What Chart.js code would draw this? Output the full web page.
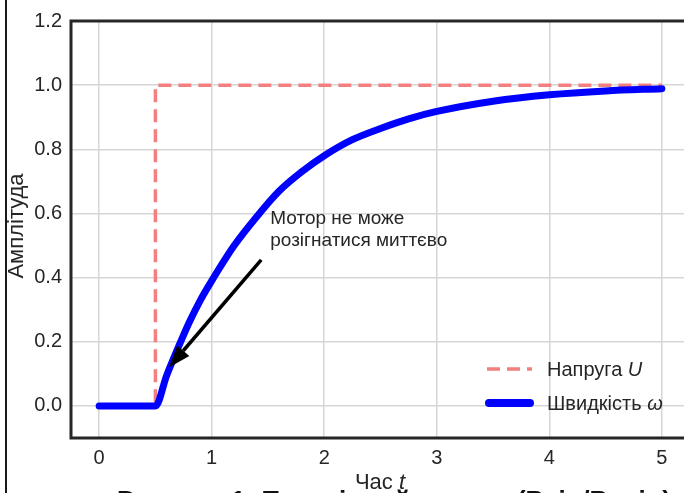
<!DOCTYPE html>
<html>
<head>
<meta charset="utf-8">
<script src="https://cdn.jsdelivr.net/npm/chart.js@4.4.1/dist/chart.umd.min.js"></script>
<style>
  html, body { margin: 0; padding: 0; background: #ffffff; overflow: hidden; }
  #wrap { position: relative; width: 700px; height: 493px; }
</style>
</head>
<body>
<div id="wrap"><canvas id="c"></canvas></div>
<script>
// ---- data ----
const timeSpeed = [0, 0.5, 0.6, 0.7, 0.8, 0.9, 1.0, 1.2, 1.4, 1.6, 1.8, 2.0, 2.25, 2.5, 2.75, 3.0, 3.5, 4.0, 4.5, 5.0];
const speedOmega = [0, 0, 0.095, 0.18, 0.26, 0.33, 0.39, 0.50, 0.59, 0.67, 0.73, 0.78, 0.83, 0.865, 0.895, 0.918, 0.95, 0.97, 0.982, 0.989];
const timeVoltage = [0, 0.5, 0.5, 5];
const voltageU = [0, 0, 1, 1];
const xTickValues = [0, 1, 2, 3, 4, 5];
const yTickValues = [0, 0.2, 0.4, 0.6, 0.8, 1.0, 1.2];
const xRange = [-0.25, 5.25];
const yRange = [-0.1, 1.2];
const annotationText = ["Мотор не може", "розігнатися миттєво"];
const annotationTextAt = [1.52, 0.5];
const annotationArrowFrom = [1.44, 0.455];
const annotationArrowTo = [0.62, 0.12];
const legendLabels = [["Напруга ", "U"], ["Швидкість ", "ω"]];
const xTitle = ["Час ", "t"];
const yTitle = "Амплітуда";
const captionText = "Рисунок 1: Перехідний процес (Вхід/Вихід)";

const FONT = "'Liberation Sans', Arial, sans-serif";
const TXT = "#262626";
const RED = "#f37f7f";
const BLUE = "#0000ff";

const voltagePoints = timeVoltage.map((t, i) => ({ x: t, y: voltageU[i] }));
const speedPoints = timeSpeed.map((t, i) => ({ x: t, y: speedOmega[i] }));

const extras = {
  id: 'extras',
  afterDatasetsDraw(chart) {
    const ctx = chart.ctx;
    const a = chart.chartArea;
    const xs = chart.scales.x, ys = chart.scales.y;
    ctx.save();
    // spines
    ctx.strokeStyle = "#262626";
    ctx.lineWidth = 3;
    ctx.beginPath();
    ctx.moveTo(a.right, a.top); ctx.lineTo(a.left, a.top);
    ctx.lineTo(a.left, a.bottom); ctx.lineTo(a.right, a.bottom);
    ctx.stroke();

    // figure border line at left
    ctx.strokeStyle = "#1a1a1a";
    ctx.lineWidth = 2;
    ctx.beginPath(); ctx.moveTo(6, 0); ctx.lineTo(6, 493); ctx.stroke();

    // annotation arrow
    const fx = xs.getPixelForValue(annotationArrowFrom[0]);
    const fy = ys.getPixelForValue(annotationArrowFrom[1]);
    const tx = xs.getPixelForValue(annotationArrowTo[0]);
    const ty = ys.getPixelForValue(annotationArrowTo[1]);
    const ang = Math.atan2(ty - fy, tx - fx);
    const headLen = 22, headW = 8;
    const bx = tx - headLen * Math.cos(ang), by = ty - headLen * Math.sin(ang);
    ctx.strokeStyle = "#000"; ctx.fillStyle = "#000";
    ctx.lineWidth = 3.5;
    ctx.beginPath(); ctx.moveTo(fx, fy); ctx.lineTo(bx, by); ctx.stroke();
    ctx.beginPath();
    ctx.moveTo(tx, ty);
    ctx.lineTo(bx + headW * Math.sin(ang), by - headW * Math.cos(ang));
    ctx.lineTo(bx - headW * Math.sin(ang), by + headW * Math.cos(ang));
    ctx.closePath(); ctx.fill();

    // annotation text
    ctx.fillStyle = TXT;
    ctx.font = "19px " + FONT;
    ctx.textAlign = "left"; ctx.textBaseline = "alphabetic";
    const ax = xs.getPixelForValue(annotationTextAt[0]);
    const ay = ys.getPixelForValue(annotationTextAt[1]);
    ctx.fillText(annotationText[0], ax, ay - 22);
    ctx.fillText(annotationText[1], ax, ay);

    // legend
    ctx.save();
    ctx.strokeStyle = RED; ctx.lineWidth = 3.5; ctx.setLineDash([13, 7]);
    ctx.beginPath(); ctx.moveTo(487, 369); ctx.lineTo(532, 369); ctx.stroke();
    ctx.restore();
    ctx.save();
    ctx.strokeStyle = BLUE; ctx.lineWidth = 8; ctx.lineCap = "round";
    ctx.beginPath(); ctx.moveTo(489, 403); ctx.lineTo(530, 403); ctx.stroke();
    ctx.restore();
    const legY = [376, 410];
    legendLabels.forEach((lab, i) => {
      ctx.font = "20px " + FONT;
      ctx.fillStyle = TXT;
      ctx.fillText(lab[0], 547, legY[i]);
      const w = ctx.measureText(lab[0]).width;
      ctx.font = "italic 20px " + FONT;
      ctx.fillText(lab[1], 547 + w, legY[i]);
    });

    // caption (cut off at bottom)
    ctx.font = "bold 26px " + FONT;
    ctx.textAlign = "left";
    ctx.fillStyle = "#111";
    ctx.fillText(captionText, 117, 508.5);

    // x title
    ctx.fillStyle = TXT;
    ctx.font = "22px " + FONT;
    const w1 = ctx.measureText(xTitle[0]).width;
    ctx.font = "italic 22px " + FONT;
    const w2 = ctx.measureText(xTitle[1]).width;
    let sx = 380 - (w1 + w2) / 2;
    ctx.font = "22px " + FONT;
    ctx.fillText(xTitle[0], sx, 489);
    ctx.font = "italic 22px " + FONT;
    ctx.fillText(xTitle[1], sx + w1, 489);

    // y title
    ctx.save();
    ctx.translate(23, 226);
    ctx.rotate(-Math.PI / 2);
    ctx.font = "22px " + FONT;
    ctx.textAlign = "center";
    ctx.fillText(yTitle, 0, 0);
    ctx.restore();

    ctx.restore();
  }
};

new Chart(document.getElementById('c'), {
  type: 'scatter',
  data: {
    datasets: [
      {
        label: 'Напруга U',
        data: voltagePoints,
        showLine: true,
        borderColor: RED,
        borderWidth: 3.5,
        borderDash: [13, 7],
        pointRadius: 0,
        fill: false,
        tension: 0,
        order: 2
      },
      {
        label: 'Швидкість ω',
        data: speedPoints,
        showLine: true,
        borderColor: BLUE,
        borderWidth: 7,
        borderCapStyle: 'round',
        borderJoinStyle: 'round',
        pointRadius: 0,
        fill: false,
        cubicInterpolationMode: 'monotone',
        order: 1
      }
    ]
  },
  options: {
    responsive: true,
    maintainAspectRatio: false,
    animation: false,
    events: [],
    layout: { padding: { top: 16, right: 10, left: 0, bottom: 0 } },
    plugins: { legend: { display: false }, tooltip: { enabled: false } },
    scales: {
      x: {
        type: 'linear',
        min: xRange[0], max: xRange[1],
        afterBuildTicks: (s) => { s.ticks = xTickValues.map(v => ({ value: v })); },
        afterFit: (s) => { s.height = 55; },
        grid: { color: '#d6d6d6', lineWidth: 1.5, drawTicks: false },
        border: { display: false },
        ticks: { color: TXT, font: { family: FONT, size: 20 }, padding: 8, callback: (v) => String(v) }
      },
      y: {
        type: 'linear',
        min: yRange[0], max: yRange[1],
        afterBuildTicks: (s) => { s.ticks = yTickValues.map(v => ({ value: v })); },
        afterFit: (s) => { s.width = 71; },
        grid: { color: '#d6d6d6', lineWidth: 1.5, drawTicks: false },
        border: { display: false },
        ticks: { color: TXT, font: { family: FONT, size: 20 }, padding: 9, callback: (v) => Number(v).toFixed(1) }
      }
    }
  },
  plugins: [extras]
});
</script>
</body>
</html>
